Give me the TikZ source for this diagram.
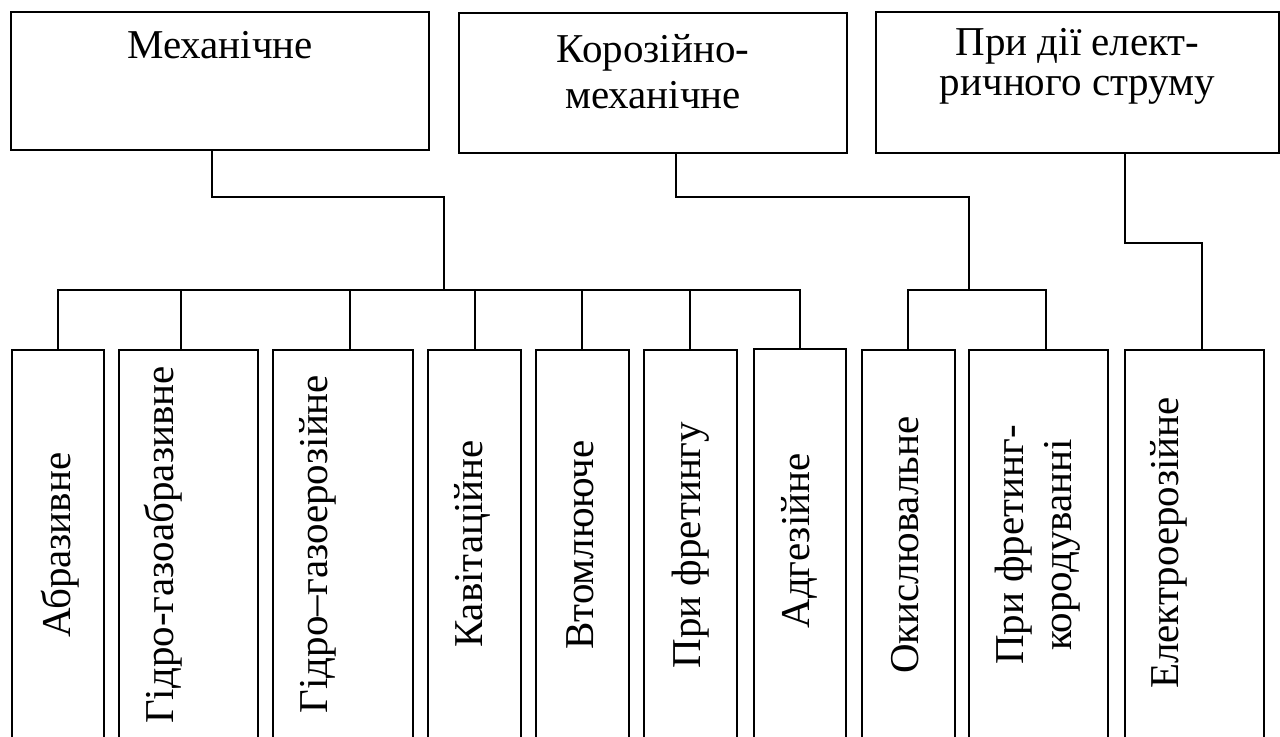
\documentclass[tikz,border=0pt]{standalone}
\usepackage{fontspec}
\setmainfont{Liberation Serif}
\newcommand{\cellfont}{\fontsize{20.5}{21.5}\selectfont}
\tikzset{
  box/.style={draw,line width=1pt,inner sep=0pt},
  toplabel/.style={font=\cellfont,inner sep=0pt,align=center,anchor=base},
  sidelabel/.style={font=\cellfont,inner sep=0pt,align=center,rotate=90},
  link/.style={draw,line width=1pt}
}
\begin{document}
\begin{tikzpicture}[x=0.5pt,y=-0.5pt]
  \useasboundingbox (0,0) rectangle (1280,736);
  \clip (0,0) rectangle (1280,736);

  % Top groups
  \node[box,minimum width=209pt,minimum height=69pt] (mech) at (220,81) {};
  \node[toplabel] (mechtxt) at (220,58) {Механічне};
  \node[box,minimum width=194pt,minimum height=70pt] (corr) at (653,83) {};
  \node[toplabel,font=\fontsize{20.5}{23}\selectfont] (corrtxt) at (653,108) {Корозійно-\\механічне};
  \node[box,minimum width=201.5pt,minimum height=70.5pt] (elec) at (1077.5,82.5) {};
  \node[toplabel,font=\fontsize{20.5}{20}\selectfont] (electxt) at (1077.5,95) {При дії елект-\\ричного струму};

  % Kinds of wear
  \node[box,minimum width=46pt,minimum height=195pt] (abr) at (58,545) {};
  \node[sidelabel] at (60,545) {Абразивне};
  \node[box,minimum width=69.5pt,minimum height=195pt] (hgabr) at (188.5,545) {};
  \node[sidelabel] at (163,545) {Гідро-газоабразивне};
  \node[box,minimum width=70pt,minimum height=195pt] (hgero) at (343,545) {};
  \node[sidelabel] at (318,544) {Гідро–газоерозійне};
  \node[box,minimum width=46.5pt,minimum height=195pt] (cav) at (474.5,545) {};
  \node[sidelabel] at (472,544) {Кавітаційне};
  \node[box,minimum width=46.5pt,minimum height=195pt] (fat) at (582.5,545) {};
  \node[sidelabel] at (580,545) {Втомлююче};
  \node[box,minimum width=46.5pt,minimum height=195pt] (fret) at (690.5,545) {};
  \node[sidelabel] at (691,545) {При фретингу};
  \node[box,minimum width=46pt,minimum height=195.5pt] (adh) at (800,544.5) {};
  \node[sidelabel] at (799,541) {Адгезійне};
  \node[box,minimum width=46.5pt,minimum height=195pt] (oxid) at (908.5,545) {};
  \node[sidelabel] at (905,545) {Окислювальне};
  \node[box,minimum width=69.5pt,minimum height=195pt] (fretcor) at (1038.5,545) {};
  \node[sidelabel,font=\fontsize{20.5}{24}\selectfont] at (1038,545) {При фретинг-\\кородуванні};
  \node[box,minimum width=69.5pt,minimum height=195pt] (eero) at (1194.5,545) {};
  \node[sidelabel] at (1169,543) {Електроерозійне};

  % Mechanical branch
  \coordinate (mechbus) at (444,290);
  \draw[link] (212,0 |- mech.south) |- (444,197) -- (mechbus);
  \draw[link] (58,0 |- abr.north) |- (800,290) -- (800,0 |- adh.north);
  \draw[link] (181,290) -- (181,0 |- hgabr.north);
  \draw[link] (350,290) -- (350,0 |- hgero.north);
  \draw[link] (475,290) -- (475,0 |- cav.north);
  \draw[link] (582,290) -- (582,0 |- fat.north);
  \draw[link] (690,290) -- (690,0 |- fret.north);

  % Corrosion-mechanical branch
  \coordinate (corrbus) at (969,290);
  \draw[link] (676,0 |- corr.south) |- (969,197) -- (corrbus);
  \draw[link] (908,0 |- oxid.north) |- (1046,290) -- (1046,0 |- fretcor.north);

  % Electric current branch
  \draw[link] (1125,0 |- elec.south) |- (1202,243) -- (1202,0 |- eero.north);
\end{tikzpicture}
\end{document}
